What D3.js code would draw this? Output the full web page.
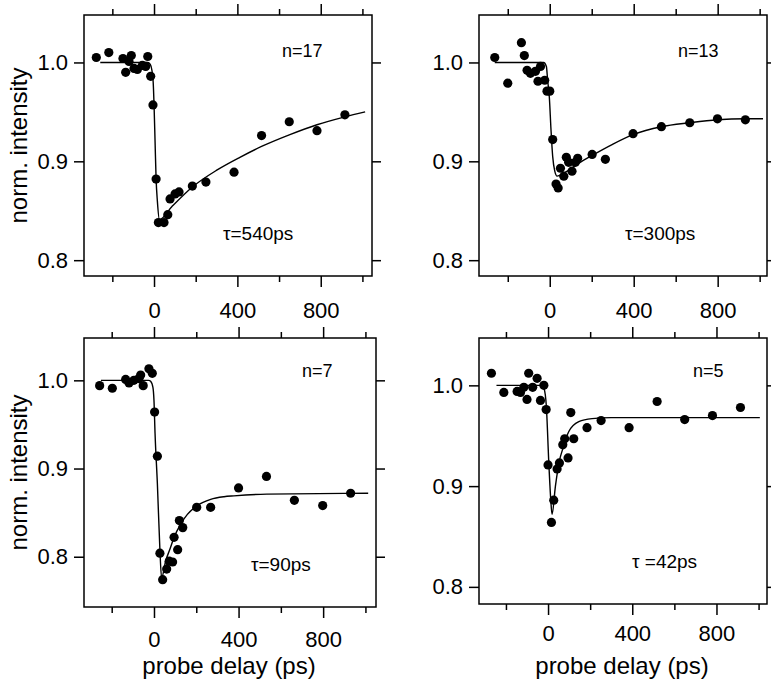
<!DOCTYPE html>
<html>
<head>
<meta charset="utf-8">
<script src="https://cdn.jsdelivr.net/npm/d3@7"></script>
<style>
  body { margin: 0; background: #fff; }
  svg text { font-family: Arial, "Liberation Sans", sans-serif; fill: #000; }
</style>
</head>
<body>
<svg id="chart" width="771" height="684"></svg>
<script>

/**
 * Data
 */

// n=17
const delay17 = [-277, -217, -149, -136, -120, -109, -96, -80, -56, -40, -30, -16, -5, 10, 21, 48, 66, 77, 101, 120, 184, 249, 384, 516, 649, 782, 916];
const intensity17 = [1.005, 1.010, 1.004, 0.990, 1.001, 1.007, 0.994, 0.993, 0.997, 0.996, 1.006, 0.986, 0.957, 0.882, 0.838, 0.838, 0.846, 0.862, 0.867, 0.869, 0.875, 0.879, 0.889, 0.926, 0.940, 0.931, 0.947];
const fitDelay17 = [-258, -30, -18, -10, -4, 0, 5, 10, 16, 26, 85, 184, 301, 412, 516, 652, 782, 916, 1013];
const fitIntensity17 = [1.0, 1.0, 0.998, 0.992, 0.980, 0.958, 0.920, 0.882, 0.860, 0.841, 0.854, 0.874, 0.891, 0.904, 0.915, 0.927, 0.937, 0.945, 0.950];

// n=13
const delay13 = [-262, -200, -135, -121, -108, -92, -68, -56, -44, -24, -13, 0, 14, 30, 40, 51, 67, 79, 90, 106, 122, 133, 202, 265, 397, 532, 667, 799, 932];
const intensity13 = [1.005, 0.979, 1.020, 1.007, 0.992, 0.989, 0.991, 0.981, 0.996, 0.982, 0.971, 0.971, 0.922, 0.877, 0.873, 0.893, 0.885, 0.904, 0.899, 0.890, 0.899, 0.903, 0.907, 0.902, 0.928, 0.935, 0.939, 0.943, 0.942];
const fitDelay13 = [-262, -29, -16, -10, -2, 6, 14, 24, 35, 75, 138, 202, 297, 397, 532, 667, 799, 932, 1016];
const fitIntensity13 = [1.0, 1.0, 0.996, 0.982, 0.965, 0.932, 0.905, 0.890, 0.885, 0.889, 0.898, 0.906, 0.917, 0.927, 0.935, 0.939, 0.942, 0.943, 0.943];

// n=7
const delay7 = [-257, -197, -134, -118, -95, -71, -63, -51, -24, -8, 3, 16, 28, 41, 60, 72, 88, 95, 112, 120, 136, 202, 268, 400, 532, 664, 798, 930];
const intensity7 = [0.994, 0.991, 1.001, 0.997, 1.000, 1.002, 1.006, 0.994, 1.013, 1.008, 0.964, 0.914, 0.804, 0.774, 0.786, 0.795, 0.794, 0.822, 0.808, 0.841, 0.833, 0.856, 0.856, 0.878, 0.891, 0.864, 0.858, 0.872];
const fitDelay7 = [-251, -25, -16, -5, 0, 5, 16, 28, 36, 55, 76, 95, 126, 158, 205, 268, 331, 378, 533, 1013];
const fitIntensity7 = [1.0, 1.0, 0.999, 0.992, 0.977, 0.940, 0.883, 0.808, 0.776, 0.795, 0.809, 0.822, 0.837, 0.848, 0.858, 0.865, 0.868, 0.869, 0.871, 0.872];

// n=5
const delay5 = [-269, -210, -147, -131, -115, -100, -92, -73, -52, -36, -20, -9, 0, 16, 27, 43, 54, 70, 79, 95, 108, 122, 185, 252, 385, 518, 649, 781, 914];
const intensity5 = [1.012, 0.993, 0.994, 0.993, 0.998, 0.986, 1.012, 0.998, 1.007, 0.985, 1.000, 0.976, 0.921, 0.864, 0.886, 0.917, 0.923, 0.941, 0.947, 0.928, 0.973, 0.947, 0.958, 0.965, 0.958, 0.984, 0.966, 0.970, 0.978];
const fitDelay5 = [-245, -28, -19, -8, 3, 13, 19, 35, 56, 67, 98, 146, 209, 300, 1006];
const fitIntensity5 = [1.0, 1.0, 0.997, 0.979, 0.926, 0.886, 0.872, 0.900, 0.927, 0.935, 0.954, 0.964, 0.967, 0.968, 0.968];

// ticks and labels
const xMinorTicks = [-200, 200, 600, 1000];
const xMajorTicks = [0, 400, 800];
const yTicks = [0.8, 0.9, 1.0];
const sizeLabels = ['n=17', 'n=13', 'n=7', 'n=5'];
const tauLabels = ['τ=540ps', 'τ=300ps', 'τ=90ps', 'τ =42ps'];


/**
 * Layout
 */

const panels = [
  { delay: delay17, intensity: intensity17, fitDelay: fitDelay17, fitIntensity: fitIntensity17,
    left: 84, right: 372, top: 15, bottom: 276, xDomain: [-336, 1046], yDomain: [0.784, 1.048],
    labelGap: 42, yTitle: true, xTitle: false, sizePos: [282, 57], tauPos: [223, 240] },
  { delay: delay13, intensity: intensity13, fitDelay: fitDelay13, fitIntensity: fitIntensity13,
    left: 479, right: 767, top: 15, bottom: 276, xDomain: [-337, 1035], yDomain: [0.784, 1.048],
    labelGap: 42, yTitle: false, xTitle: false, sizePos: [678, 57], tauPos: [625, 240] },
  { delay: delay7, intensity: intensity7, fitDelay: fitDelay7, fitIntensity: fitIntensity7,
    left: 84, right: 376, top: 338, bottom: 607, xDomain: [-331, 1050], yDomain: [0.743, 1.048],
    labelGap: 40, yTitle: true, xTitle: true, sizePos: [302, 377], tauPos: [251, 571] },
  { delay: delay5, intensity: intensity5, fitDelay: fitDelay5, fitIntensity: fitIntensity5,
    left: 479, right: 767, top: 338, bottom: 604, xDomain: [-328, 1040], yDomain: [0.783, 1.047],
    labelGap: 37, yTitle: false, xTitle: true, sizePos: [693, 377], tauPos: [632, 568] },
];

const tickFont = 22;
const svg = d3.select('#chart');

svg.append('rect')
   .attr('width', 771)
   .attr('height', 684)
   .attr('fill', '#fff');

panels.forEach((p, i) => {
  const x = d3.scaleLinear().domain(p.xDomain).range([p.left, p.right]);
  const y = d3.scaleLinear().domain(p.yDomain).range([p.bottom, p.top]);
  const g = svg.append('g');

  // frame
  g.append('rect')
   .attr('x', p.left)
   .attr('y', p.top)
   .attr('width', p.right - p.left)
   .attr('height', p.bottom - p.top)
   .attr('fill', 'none')
   .attr('stroke', '#000')
   .attr('stroke-width', 1.5);

  const styleAxis = sel => {
    sel.select('.domain').remove();
    sel.selectAll('line').attr('stroke', '#000').attr('stroke-width', 1.5);
    sel.selectAll('text').attr('font-size', tickFont).attr('fill', '#000');
  };

  // bottom axis: minor + labelled major ticks
  g.append('g')
   .attr('transform', `translate(0,${p.bottom})`)
   .call(d3.axisBottom(x).tickValues(xMinorTicks).tickSize(6).tickFormat(''))
   .call(styleAxis);

  g.append('g')
   .attr('transform', `translate(0,${p.bottom})`)
   .call(d3.axisBottom(x).tickValues(xMajorTicks).tickSize(11)
           .tickPadding(p.labelGap - 11 - 0.71 * tickFont).tickFormat(d3.format('d')))
   .call(styleAxis);

  // top axis: ticks only
  g.append('g')
   .attr('transform', `translate(0,${p.top})`)
   .call(d3.axisTop(x).tickValues(xMinorTicks).tickSize(6).tickFormat(''))
   .call(styleAxis);

  g.append('g')
   .attr('transform', `translate(0,${p.top})`)
   .call(d3.axisTop(x).tickValues(xMajorTicks).tickSize(11).tickFormat(''))
   .call(styleAxis);

  // left and right axes
  g.append('g')
   .attr('transform', `translate(${p.left},0)`)
   .call(d3.axisLeft(y).tickValues(yTicks).tickSize(10).tickPadding(6).tickFormat(d3.format('.1f')))
   .call(styleAxis);

  g.append('g')
   .attr('transform', `translate(${p.right},0)`)
   .call(d3.axisRight(y).tickValues(yTicks).tickSize(9).tickFormat(''))
   .call(styleAxis);

  // fit curve
  const fit = p.fitDelay.map((d, k) => [d, p.fitIntensity[k]]);
  const line = d3.line()
                 .x(d => x(d[0]))
                 .y(d => y(d[1]))
                 .curve(d3.curveMonotoneX);

  g.append('path')
   .datum(fit)
   .attr('d', line)
   .attr('fill', 'none')
   .attr('stroke', '#000')
   .attr('stroke-width', 1.4);

  // measured points
  g.selectAll('circle')
   .data(p.delay.map((d, k) => [d, p.intensity[k]]))
   .enter()
   .append('circle')
   .attr('cx', d => x(d[0]))
   .attr('cy', d => y(d[1]))
   .attr('r', 4.6)
   .attr('fill', '#000');

  // annotations
  g.append('text')
   .attr('x', p.sizePos[0])
   .attr('y', p.sizePos[1])
   .attr('font-size', 18)
   .text(sizeLabels[i]);

  g.append('text')
   .attr('x', p.tauPos[0])
   .attr('y', p.tauPos[1])
   .attr('font-size', 19)
   .text(tauLabels[i]);

  if (p.yTitle) {
    g.append('text')
     .attr('transform', `translate(27,${(p.top + p.bottom) / 2}) rotate(-90)`)
     .attr('text-anchor', 'middle')
     .attr('font-size', 24)
     .text('norm. intensity');
  }

  if (p.xTitle) {
    g.append('text')
     .attr('x', (p.left + p.right) / 2 - 1)
     .attr('y', 674)
     .attr('text-anchor', 'middle')
     .attr('font-size', 24)
     .text('probe delay (ps)');
  }
});

</script>
</body>
</html>
